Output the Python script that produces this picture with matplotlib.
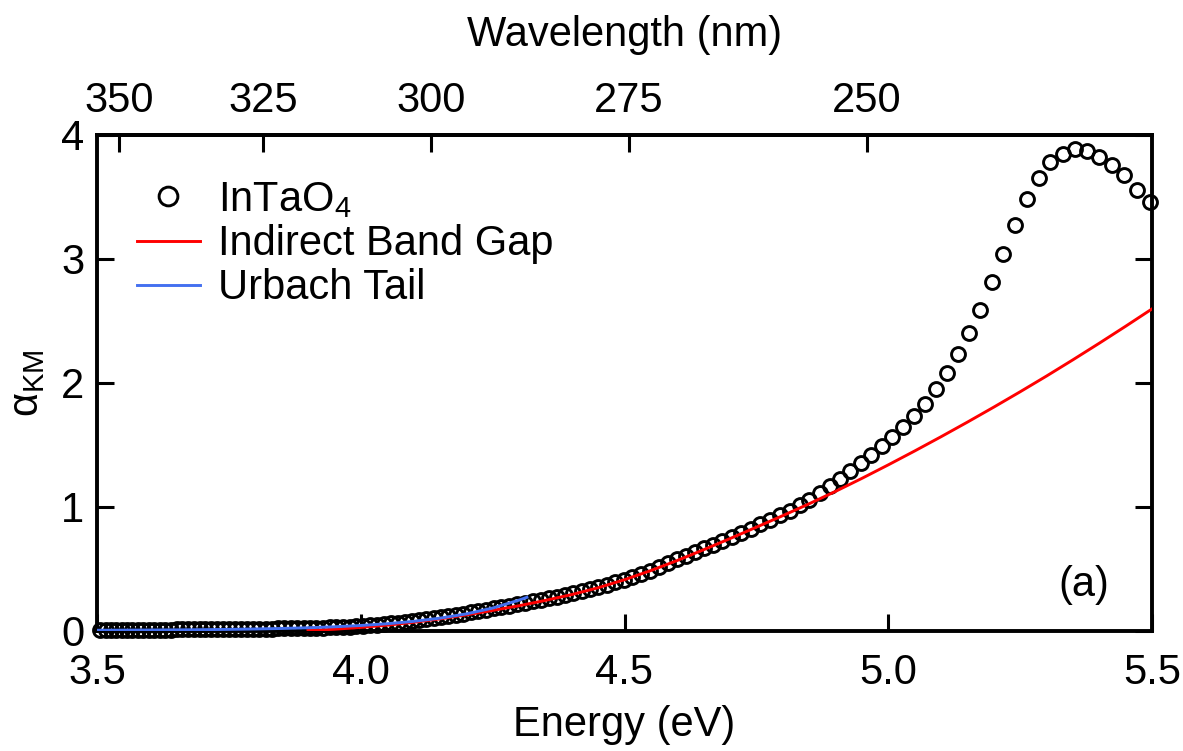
import numpy as np
import matplotlib
matplotlib.use("Agg")
import matplotlib.pyplot as plt

plt.rcParams["font.family"] = ["Liberation Sans", "DejaVu Sans"]
plt.rcParams["mathtext.fontset"] = "custom"
plt.rcParams["mathtext.rm"] = "Liberation Sans"
plt.rcParams["mathtext.it"] = "Liberation Sans:italic"
plt.rcParams["mathtext.bf"] = "Liberation Sans:bold"

HC_EV_NM = 1239.84  # photon energy (eV) * wavelength (nm)

# Measured Kubelka-Munk absorption, sampled every 1 nm (ascending wavelength)
wavelength_nm = np.round(np.arange(225.6, 353.7, 1.0), 1)
alpha_km = [
    3.46, 3.56, 3.68, 3.76, 3.82, 3.87, 3.89, 3.85, 3.78, 3.65,
    3.48, 3.27, 3.04, 2.81, 2.59, 2.40, 2.23, 2.08, 1.95, 1.83,
    1.73, 1.64, 1.56,
    1.49, 1.42, 1.35, 1.285, 1.22, 1.165, 1.11, 1.057, 1.01, 0.965,
    0.93, 0.89, 0.856, 0.822, 0.788, 0.756, 0.725, 0.694, 0.663, 0.633,
    0.604, 0.574, 0.544, 0.512, 0.482, 0.456, 0.432, 0.408, 0.389, 0.370,
    0.350, 0.334, 0.317, 0.301, 0.287, 0.274, 0.261, 0.248, 0.236, 0.224,
    0.212, 0.201, 0.190, 0.178, 0.168, 0.157, 0.146, 0.136, 0.126, 0.116,
    0.107, 0.099, 0.091, 0.084, 0.077, 0.070, 0.064, 0.058, 0.053, 0.048,
    0.043, 0.038, 0.034, 0.032, 0.029, 0.027, 0.025, 0.023, 0.022, 0.020,
    0.019, 0.019, 0.018, 0.017, 0.017, 0.016, 0.015, 0.015, 0.014, 0.013,
    0.013, 0.012, 0.012, 0.012, 0.011, 0.011, 0.010, 0.010, 0.010, 0.009,
    0.009, 0.009, 0.008, 0.008, 0.008, 0.007, 0.007, 0.007, 0.006, 0.006,
    0.006, 0.005, 0.005, 0.005, 0.005, 0.004,
]

# Indirect band gap fit
bandgap_energy = [3.90, 3.95, 4.00, 4.05, 4.10, 4.15, 4.20, 4.25, 4.30, 4.35,
                  4.40, 4.45, 4.50, 4.55, 4.60, 4.65, 4.70, 4.75, 4.80, 4.85,
                  4.90, 4.95, 5.00, 5.05, 5.10, 5.15, 5.20, 5.25, 5.30, 5.35,
                  5.40, 5.45, 5.50]
bandgap_alpha = [0.000, 0.010, 0.025, 0.043, 0.066, 0.094, 0.126, 0.162, 0.200, 0.243,
                 0.290, 0.345, 0.410, 0.484, 0.565, 0.652, 0.742, 0.834, 0.927, 1.023,
                 1.123, 1.228, 1.337, 1.449, 1.564, 1.682, 1.803, 1.927, 2.054, 2.185,
                 2.319, 2.456, 2.596]

# Urbach tail fit
urbach_energy = [3.50, 3.55, 3.60, 3.65, 3.70, 3.75, 3.80, 3.85, 3.90, 3.95,
                 4.00, 4.05, 4.10, 4.15, 4.20, 4.25, 4.30, 4.315]
urbach_alpha = [0.002, 0.0027, 0.0037, 0.005, 0.0067, 0.009, 0.0122, 0.0165, 0.022, 0.030,
                0.0405, 0.0546, 0.0738, 0.0996, 0.134, 0.181, 0.245, 0.268]

energy_ticks = [3.5, 4.0, 4.5, 5.0, 5.5]
energy_ticklabels = ["3.5", "4.0", "4.5", "5.0", "5.5"]
alpha_ticks = [0, 1, 2, 3, 4]
wavelength_ticks = [350, 325, 300, 275, 250]

FS = 30
W, H = 1183, 751
fig = plt.figure(figsize=(W / 100, H / 100), dpi=100)
fig.patch.set_facecolor("white")
ax = fig.add_axes([97 / W, 1 - 630.5 / H, (1152 - 97) / W, (630.5 - 135) / H])

energy = HC_EV_NM / wavelength_nm
ax.plot(energy, alpha_km, linestyle="none", marker="o", ms=10, mfc="none",
        mec="black", mew=2.1, clip_on=False, zorder=2, label="InTaO$_4$")
ax.plot(bandgap_energy, bandgap_alpha, color="#FF0000", lw=2.1, zorder=3,
        label="Indirect Band Gap")
ax.plot(urbach_energy, urbach_alpha, color="#4470F0", lw=2.1, zorder=3,
        label="Urbach Tail")

ax.set_xlim(3.5, 5.5)
ax.set_ylim(0, 4)
ax.set_xticks(energy_ticks)
ax.set_xticklabels(energy_ticklabels)
ax.set_yticks(alpha_ticks)
ax.tick_params(direction="in", length=12, width=2.2, labelsize=FS,
               top=False, right=True)
ax.tick_params(axis="x", pad=16)
ax.tick_params(axis="y", pad=9)
for s in ax.spines.values():
    s.set_linewidth(2.8)

ax.set_xlabel("Energy (eV)", fontsize=FS, labelpad=9)
ax.set_ylabel("α$_{\\mathrm{KM}}$", fontsize=FS, labelpad=10)


def e_to_nm(e):
    e = np.asarray(e, dtype=float)
    with np.errstate(divide="ignore"):
        return HC_EV_NM / e


secax = ax.secondary_xaxis("top", functions=(e_to_nm, e_to_nm))
secax.set_xticks(wavelength_ticks)
secax.tick_params(direction="in", length=12, width=2.2, labelsize=FS, pad=10)
secax.spines["top"].set_linewidth(2.8)
secax.set_xlabel("Wavelength (nm)", fontsize=FS, labelpad=25)

leg = ax.legend(loc="upper left", bbox_to_anchor=(137 / W, 1 - 180 / H),
                bbox_transform=fig.transFigure, frameon=False, fontsize=FS,
                borderpad=0, borderaxespad=0, labelspacing=0.1,
                handlelength=1.5, handletextpad=0.45, markerscale=1.35)

ax.text(5.37, 0.37, "(a)", fontsize=FS, ha="center", va="center")

fig.savefig("out.png", dpi=100, facecolor="white")
